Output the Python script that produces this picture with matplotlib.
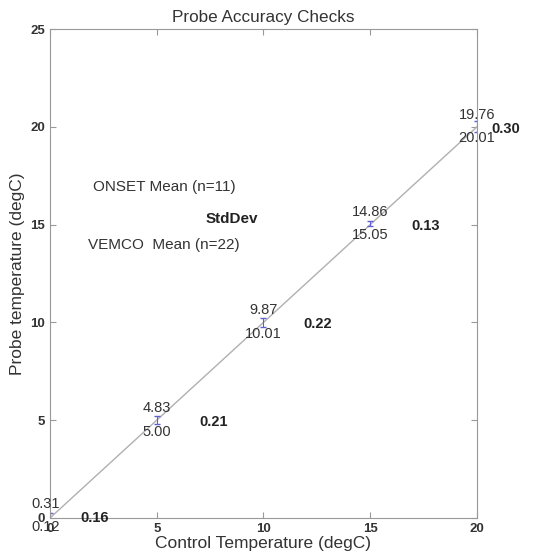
import numpy as np
import matplotlib.pyplot as plt

plt.rcParams['font.family'] = ['Liberation Sans', 'DejaVu Sans']

control = [0, 5, 10, 15, 20]
onset_mean = [0.31, 4.83, 9.87, 14.86, 19.76]
vemco_mean = [0.12, 5.00, 10.01, 15.05, 20.01]
std_dev = [0.16, 0.21, 0.22, 0.13, 0.30]

fig = plt.figure(figsize=(5.47, 5.58), dpi=100)
ax = fig.add_axes([0.0914, 0.0717, 0.7806, 0.8763])

# 1:1 reference line
ax.plot([0, 20], [0, 20], color='#b0b0b0', lw=1)

# error bars (std dev) around the probe means
ax.errorbar(control, vemco_mean, yerr=std_dev, fmt='none',
            ecolor='#6060d0', elinewidth=0.8, capsize=2)

sd_dx = [32, 41, 39, 40, 21]   # horizontal offset of the StdDev labels (points)
for x, a, b, s, dx in zip(control, onset_mean, vemco_mean, std_dev, sd_dx):
    ax.annotate('%.2f' % a, (x, b), xytext=(-3 if x == 0 else 0, 8.5),
                textcoords='offset points', ha='center', va='center',
                fontsize=10.5, color='#333333')
    ax.annotate('%.2f' % b, (x, b), xytext=(-3 if x == 0 else 0, -8.5),
                textcoords='offset points', ha='center', va='center',
                fontsize=10.5, color='#333333')
    ax.annotate('%.2f' % s, (x, b), xytext=(dx, -1.5), textcoords='offset points',
                ha='center', va='center', fontsize=10.5, fontweight='bold',
                color='#222222')

ax.text(2.0, 16.9, 'ONSET Mean (n=11)', fontsize=11, va='center', color='#333333')
ax.text(7.3, 15.3, 'StdDev', fontsize=11, va='center', fontweight='bold',
        color='#222222')
ax.text(1.8, 13.95, 'VEMCO  Mean (n=22)', fontsize=11, va='center', color='#333333')

ax.set_xlim(0, 20)
ax.set_ylim(0, 25)
ax.set_xticks([0, 5, 10, 15, 20])
ax.set_yticks([0, 5, 10, 15, 20, 25])
ax.tick_params(direction='in', length=4, color='#999999', labelsize=9.5,
               top=True, right=True)
for lab in ax.get_xticklabels() + ax.get_yticklabels():
    lab.set_fontweight('bold')
    lab.set_color('#333333')
for sp in ax.spines.values():
    sp.set_color('#999999')

ax.set_title('Probe Accuracy Checks', fontsize=12.3, color='#333333', pad=5)
ax.set_xlabel('Control Temperature (degC)', fontsize=12.5, color='#333333', labelpad=1)
ax.set_ylabel('Probe temperature (degC)', fontsize=12.5, color='#333333', labelpad=4)

fig.savefig('out.png', dpi=100)
